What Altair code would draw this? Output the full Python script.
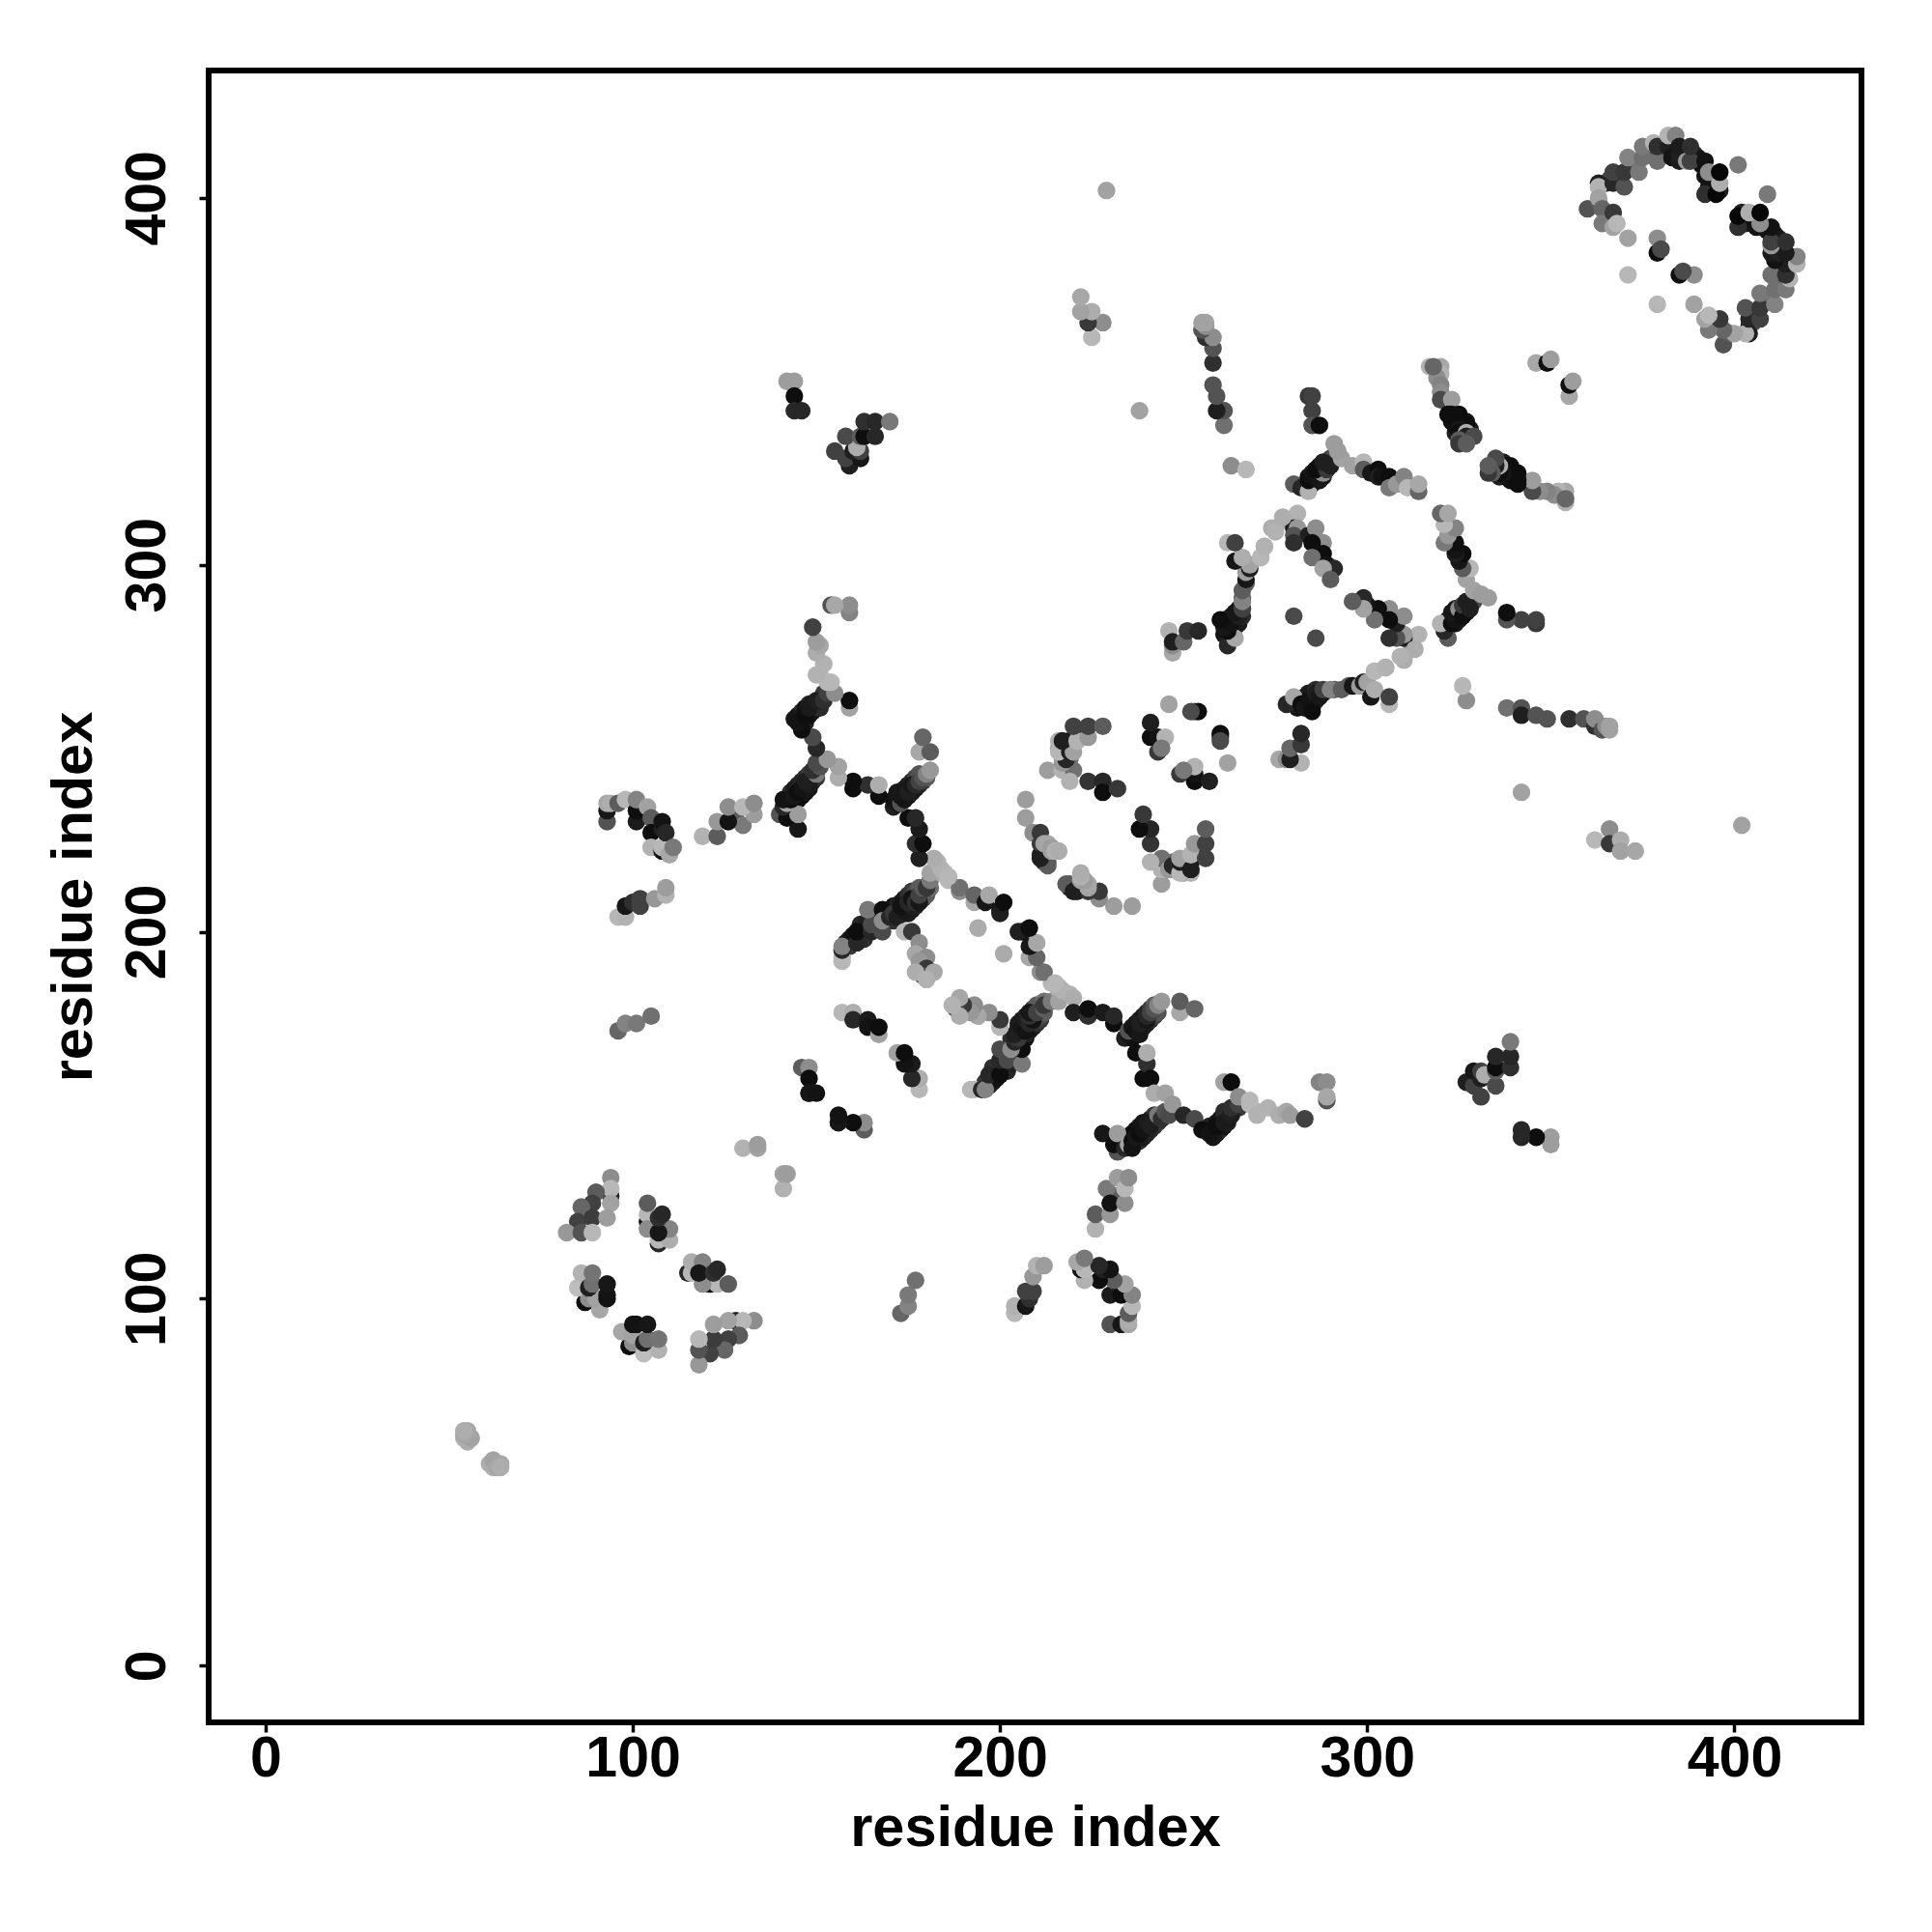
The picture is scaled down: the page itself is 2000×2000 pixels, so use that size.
import altair as alt
import pandas as pd

tick_values = [0, 100, 200, 300, 400]
axis_title = "residue index"

# contacts: (residue i, residue j, grey level 0-255); the contact map holds each pair both ways
band_g_low = [(158,197,40),(159,198,25),(159,196,60),(160,199,15),(162,199,30),(163,198,50),(163,201,20),(162,202,40),(164,201,60),(164,203,30),(166,203,35),(165,205,15),(166,205,25),(167,201,70),(167,205,20)]
band_g_high = [(169,205,30),(170,206,15),(171,203,50),(171,207,20),(172,205,25),(172,207,35),(173,205,15),(173,208,30),(174,205,40),(174,209,20),(175,206,15),(175,210,50),(176,206,25),(176,211,60),(177,207,35),(177,211,80),(178,209,45),(178,212,100),(179,209,70),(179,210,60),(180,210,100),(181,212,120)]
band_l = [(171,234,30),(171,236,15),(172,235,20),(172,236,15),(173,236,25),(173,238,15),(174,237,20),(174,239,35),(175,237,15),(175,240,25),(176,238,30),(176,241,45),(177,239,20),(177,242,70),(178,240,35),(178,243,90),(179,241,60),(180,242,100)]
band_n = [(142,233,30),(143,234,15),(143,238,50),(144,235,10),(144,239,25),(145,236,15),(145,240,30),(146,237,10),(146,241,35),(147,238,15),(147,242,45),(148,239,20),(148,243,60),(149,241,25),(149,242,45),(150,242,55)]
band_o = [(145,259,15),(146,257,25),(146,258,15),(146,260,40),(147,257,30),(147,261,15),(148,259,15),(148,262,35),(149,260,20),(149,262,15),(150,261,30),(151,261,45),(151,263,20),(152,265,60)]
band_z = [(261,281,15),(261,285,25),(262,280,25),(262,284,10),(263,280,40),(263,282,15),(263,286,30),(264,283,15),(264,285,15),(265,284,25),(265,288,40),(266,286,45),(266,291,90)]
band_ee = [(283,321,15),(283,322,25),(284,322,10),(284,324,20),(285,322,15),(285,325,30),(286,323,15),(286,324,10),(287,325,20),(287,327,35),(288,324,30),(288,326,25),(289,328,50),(290,329,80)]
band_ff = [(323,339,15),(324,336,30),(324,338,15),(324,340,10),(326,335,40),(326,337,15),(326,339,10),(327,339,15),(328,337,25)]
band_t = [(216,250,170),(217,247,170),(217,248,60),(218,249,40),(218,250,30),(219,247,120),(219,250,20),(219,252,15),(220,252,20),(221,254,30)]
band_ring = [(365,404,40),(366,405,80),(368,406,60),(369,405,90),(372,408,120),(376,412,130),(377,413,90),(380,413,20),(381,412,60),(386,412,25),(387,413,35),(389,412,40),(390,411,20),(391,409,15),(393,403,25),(394,402,15),(394,404,15),(395,405,10)]

pair_a = [(54,62,185),(55,61,180),(56,62,170),(54,63,175),(55,64,175),(54,64,180)]
ring_b1 = [(94,133,150),(94,128,40),(94,130,190),(94,126,170),(90,129,100),(89,126,70),(86,125,110),(85,121,70),(89,122,65),(93,122,165),(82,118,160),(86,118,90),(89,118,190)]
ring_b2 = [(107,115,40),(107,116,190),(110,116,180),(110,119,140),(104,121,10),(104,123,190),(104,119,150),(104,126,100),(107,118,20),(107,122,50),(108,123,40)]
ring_b3 = [(87,99,10),(88,100,150),(91,97,175),(90,100,170),(85,103,195),(86,107,185),(88,103,30),(89,104,120),(89,107,125),(93,100,15),(93,101,15),(93,104,20)]
pair_c = [(130,141,185),(134,141,170),(134,142,165)]
run_d = [(96,173,110),(98,175,140),(101,175,130),(105,177,120)]
run_e = [(146,163,100),(148,163,150),(148,160,10),(148,156,60),(148,156,20),(150,156,15)]
run_f = [(157,178,190),(160,178,180),(160,176,40),(164,176,25),(164,174,15),(167,172,170),(167,174,10)]
chain_g = [(157,192,190),(157,193,190),(157,195,40),(157,196,140),(161,197,40),(161,200,10),(165,200,40),(165,202,80),(164,206,130),(168,206,10),(168,200,80),(168,203,150),(170,204,40),(171,205,60),(172,204,30),(173,206,30),(175,205,25),(174,206,20),(173,207,15),(176,207,30),(175,208,40),(176,209,15),(177,208,50),(178,208,20),(178,210,70),(179,212,100),(180,212,60),(181,214,130),(184,216,180)]
run_h = [(174,200,190),(176,200,60),(178,197,150),(177,194,175),(180,193,150),(178,192,160),(180,190,60),(179,188,80),(177,189,180),(182,189,175),(180,187,185)]
run_i = [(186,214,190),(189,211,150),(189,212,120),(193,208,175),(193,210,110),(196,208,20),(197,210,175),(200,206,20),(200,205,30),(201,208,10)]
single_pair = [(194,201,178)]
run_j = [(181,216,170),(185,216,190),(184,217,185),(186,215,190),(183,219,185),(182,220,180)]
run_k = [(178,220,30),(177,224,50),(179,224,10),(178,228,25),(175,231,10),(177,231,40)]
chain_l = [(173,235,90),(174,236,20),(173,237,15),(172,238,20),(175,238,30),(176,240,20),(177,240,40),(178,241,70),(179,242,90),(180,243,140),(181,244,160),(178,249,175),(181,249,100),(179,253,110)]
run_m = [(167,237,10),(160,239,10),(164,240,50),(167,240,180),(160,241,10),(156,242,180),(156,245,170)]
chain_n = [(145,228,20),(140,232,90),(142,231,10),(145,232,165),(141,234,40),(142,235,170),(143,236,10),(141,236,15),(144,237,20),(145,238,10),(146,239,15),(148,240,25),(147,241,30),(150,243,130),(149,244,50),(151,245,90),(150,246,80),(153,247,160)]
chain_o = [(150,250,40),(149,253,80),(146,255,10),(144,258,20),(145,257,15),(147,259,10),(148,261,25),(159,261,170),(150,263,30),(152,263,50),(159,263,10),(153,265,70),(155,265,150),(154,268,190),(151,270,185)]
run_p = [(153,268,190),(150,270,185),(152,273,185),(150,276,180),(151,278,175),(150,279,165),(149,283,70),(159,287,140),(154,289,90),(159,289,150),(155,289,175)]
run_q = [(119,226,185),(123,226,100),(128,232,100),(130,229,130),(123,230,160),(126,230,15),(133,232,165),(126,234,150),(130,234,190),(133,235,150)]
run_r = [(93,230,90),(93,233,20),(93,235,175),(94,235,180),(96,235,100),(98,236,190),(101,230,25),(101,233,10),(101,236,140),(104,234,170),(105,231,100),(105,227,10),(105,223,185),(108,222,15),(108,223,190),(108,228,30),(108,230,15),(109,227,40),(110,221,175),(111,223,130)]
run_s = [(96,204,190),(98,204,185),(98,207,20),(100,208,50),(102,207,70),(102,209,70),(106,209,160),(109,210,185),(109,212,165)]
arc_t = [(213,244,165),(217,244,185),(220,244,120),(219,241,185),(224,241,55),(228,241,40),(228,238,10),(232,239,60),(217,246,160),(218,247,40),(216,249,190),(219,249,30),(220,249,170),(216,252,185),(217,252,30),(221,252,185),(224,253,160),(220,256,70),(224,256,70),(228,256,100)]
arc_u = [(241,253,10),(243,253,15),(245,253,185),(241,257,30),(243,249,60),(244,250,130),(246,262,170),(253,260,100),(254,260,10),(252,260,80)]
arc_v = [(207,231,165),(207,236,165),(209,227,150),(211,227,60),(211,221,30),(212,222,40),(213,219,100),(212,219,40),(213,218,100),(211,224,60),(211,220,30),(212,224,170),(213,224,175),(214,222,170),(214,223,165),(215,222,185),(216,222,180)]
run_y = [(246,282,185),(247,276,175),(247,278,150),(247,279,30),(250,279,110),(251,282,60),(254,282,40)]
chain_z = [(262,278,40),(264,280,175),(262,282,10),(261,283,20),(263,284,15),(260,285,10),(265,286,30),(264,287,20),(266,288,70),(266,290,140),(266,293,100),(267,295,100),(267,296,20),(267,298,165),(268,299,30),(268,300,170),(264,301,20),(266,302,180),(271,302,190),(272,305,180),(262,306,190),(264,306,70)]
single_bb = [(263,327,150),(267,326,190)]
run_cc = [(159,327,30),(158,329,70),(162,329,20),(155,331,70),(160,331,30),(162,331,70),(161,332,180),(158,335,80),(162,335,100),(163,335,10),(166,335,40),(163,339,50),(166,339,40),(170,339,130)]
run_dd = [(284,346,60),(285,346,70),(285,342,70),(285,338,90),(287,338,10)]
chain_ee = [(280,322,100),(282,321,40),(284,320,185),(284,323,10),(285,324,15),(287,323,20),(288,325,150),(286,326,10),(289,326,60),(290,327,30),(288,328,30),(293,329,170),(292,331,165),(291,333,165),(296,327,170),(299,328,190),(299,326,100),(301,325,20),(303,326,10),(303,324,30),(304,324,15),(306,324,10),(306,321,130),(308,322,160),(310,324,140),(311,321,190),(314,320,110),(314,322,175)]
chain_ff = [(317,354,185),(320,354,175),(320,352,185),(319,351,150),(320,349,140),(320,347,150),(320,345,80),(323,345,165),(323,341,15),(322,341,10),(325,341,10),(327,338,10),(325,337,20),(325,336,10),(327,336,180),(327,335,30),(329,335,80),(325,334,100),(325,333,60),(327,333,100),(318,354,110)]
pair_hh = [(346,355,175),(349,355,10),(350,356,165)]
arc_ii = [(271,302,190),(272,305,185),(274,310,180),(277,312,185),(279,312,160),(281,314,185),(280,310,30),(281,310,160),(280,308,90),(284,308,30),(280,306,50),(280,286,80),(286,310,150),(288,306,150),(285,306,10),(288,303,10),(285,302,120),(289,300,15),(291,299,40),(288,299,170),(290,296,100),(275,309,185),(277,313,180)]
run_kk = [(261,338,120),(261,342,90),(259,342,30),(259,346,90),(258,349,90),(258,355,50),(258,359,90),(256,362,50),(258,362,150),(255,364,90),(256,365,150),(255,366,170),(256,366,170)]
single_ll = [(238,342,170),(225,362,190),(228,366,150),(224,366,60),(225,369,180),(222,369,170),(222,373,175),(229,402,170)]
run_mm = [(142,350,165),(144,350,165),(144,346,10),(144,342,40),(146,342,40)]
ring_upper = [(363,404,30),(363,403,185),(367,404,40),(367,407,70),(370,403,90),(370,407,60),(374,407,130),(371,411,140),(375,411,120),(375,414,130),(378,415,185),(379,410,120),(379,414,50),(382,414,30),(382,417,185),(384,417,140),(383,411,15),(385,410,25),(385,412,30),(385,414,25),(387,410,160),(388,410,70),(388,414,50),(392,410,15),(392,406,15),(393,407,150),(392,401,50),(396,402,30),(395,401,5),(396,404,180),(396,407,5),(401,409,130)]
ring_left = [(360,397,90),(363,399,100),(363,400,170),(364,397,110),(364,393,130),(367,396,60),(367,392,170),(368,393,190),(371,389,170),(379,389,150),(379,385,10),(380,386,80),(371,379,190)]

groups = [band_g_low, band_g_high, band_l, band_n, band_o, band_z, band_ee, band_ff, band_t, band_ring,
          pair_a, ring_b1, ring_b2, ring_b3, pair_c, run_d, run_e, run_f, chain_g, run_h, run_i, single_pair, run_j, run_k, chain_l, run_m, chain_n, chain_o, run_p, run_q, run_r, run_s, arc_t, arc_u, arc_v, run_y, chain_z, single_bb, run_cc, run_dd, chain_ee, chain_ff, pair_hh, arc_ii, run_kk, single_ll, run_mm, ring_upper, ring_left]

rows = []
for g in groups:
    for i, j, v in g:
        rows.append({"x": i, "y": j, "grey": v})
        rows.append({"x": j, "y": i, "grey": v})
df = pd.DataFrame(rows)

FONT = "Liberation Sans"

def axis(**kw):
    return alt.Axis(values=tick_values, title=axis_title, grid=False, domain=False,
                    ticks=True, tickSize=10, tickWidth=3.5, tickColor="black",
                    labelFont=FONT, labelFontSize=59, labelFontWeight="bold", labelColor="black",
                    titleFont=FONT, titleFontSize=59.5, titleFontWeight="bold", titleColor="black",
                    labelOverlap=False, **kw)

chart = (
    alt.Chart(df)
    .mark_circle(size=335, opacity=1)
    .encode(
        x=alt.X("x:Q", scale=alt.Scale(domain=[-15.5, 434.6], nice=False, zero=False),
                axis=axis(labelPadding=-2, titlePadding=13)),
        y=alt.Y("y:Q", scale=alt.Scale(domain=[-15.47, 434.7], nice=False, zero=False),
                axis=axis(labelAngle=270, labelAlign="center", labelBaseline="bottom",
                          labelPadding=24, titlePadding=17)),
        color=alt.Color("grey:Q", scale=alt.Scale(domain=[0, 255], range=["#000000", "#ffffff"]), legend=None),
    )
    .properties(width=1711, height=1710,
                autosize=alt.AutoSizeParams(type="none"),
                padding={"left": 208, "top": 65, "right": 60, "bottom": 200},
                background="white")
    .configure_view(stroke="black", strokeWidth=6, fill="white")
)
chart.save("out.html", embed_options={"renderer": "svg", "actions": False})
